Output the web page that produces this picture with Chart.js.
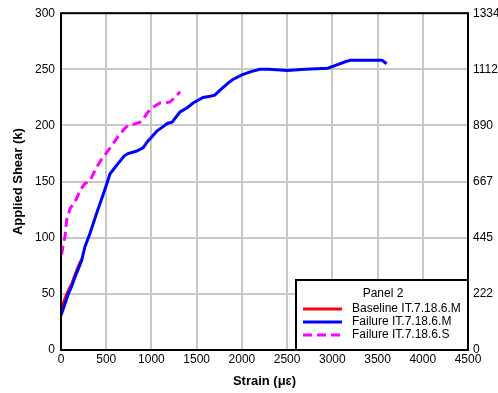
<!DOCTYPE html>
<html><head><meta charset="utf-8">
<script src="https://cdn.jsdelivr.net/npm/chart.js@4"></script>
<style>html,body{margin:0;padding:0;background:#fff}#wrap{width:498px;height:393px}</style>
</head><body><div id="wrap"><canvas id="c" width="498" height="393"></canvas></div>
<script>
const strainBaseM = [0, 40, 81, 120, 155, 190, 229];
const shearBaseM  = [36, 45, 53, 59, 67, 74, 81];
const strainFailM = [0, 40, 81, 120, 155, 190, 229, 265, 321, 395, 468, 510, 542, 630, 700, 741, 830, 907, 960, 1006, 1060, 1128, 1180, 1228, 1316, 1400, 1460, 1571, 1650, 1700, 1780, 1850, 1900, 2000, 2100, 2200, 2300, 2500, 2700, 2950, 3050, 3150, 3200, 3400, 3550, 3600];
const shearFailM  = [31, 40, 50, 57, 65, 72, 80, 92, 104, 122, 139, 149, 157, 166, 173, 175, 177, 180, 186, 190, 195, 199, 202, 203, 212, 216, 220, 225, 226, 227, 233, 238, 241, 245, 248, 250, 250, 249, 250, 251, 254, 257, 258, 258, 258, 255];
const strainFailS = [7, 25, 44, 63, 100, 155, 177, 210, 260, 321, 395, 450, 506, 570, 630, 700, 741, 800, 874, 920, 962, 1030, 1095, 1150, 1206, 1260, 1316];
const shearFailS  = [85, 94, 101, 116, 126, 132, 136, 142, 148, 151, 163, 170, 176, 183, 190, 197, 200, 201, 203, 207, 212, 217, 220, 220, 221, 225, 230];
const xTicks = [0, 500, 1000, 1500, 2000, 2500, 3000, 3500, 4000, 4500];
const yTicks = [0, 50, 100, 150, 200, 250, 300];
const kNTicks = [0, 222, 445, 667, 890, 1112, 1334];
const legendTitle = "Panel 2";
const seriesNames = ["Baseline IT.7.18.6.M", "Failure IT.7.18.6.M", "Failure IT.7.18.6.S"];

const pts = (xs, ys) => xs.map((x, i) => ({x: x, y: ys[i]}));
const FONT = "Arial, 'Liberation Sans', sans-serif";

const legendPlugin = {
  id: 'boxLegend',
  afterDraw(chart) {
    const ctx = chart.ctx, a = chart.chartArea;
    const w = 172, h = 70;
    const x0 = a.right - w, y0 = a.bottom - h;
    ctx.save();
    ctx.fillStyle = '#fff';
    ctx.fillRect(x0, y0, w, h);
    ctx.strokeStyle = '#000'; ctx.lineWidth = 2;
    ctx.strokeRect(x0, y0, w, h);
    ctx.fillStyle = '#000';
    ctx.font = '12px ' + FONT;
    ctx.textBaseline = 'middle';
    ctx.textAlign = 'center';
    ctx.fillText(legendTitle, x0 + 87, y0 + 14);
    ctx.textAlign = 'left';
    chart.data.datasets.forEach((ds, i) => {
      const yy = y0 + 29 + i * 13;
      ctx.strokeStyle = ds.borderColor; ctx.lineWidth = 3;
      ctx.setLineDash(ds.borderDash || []);
      ctx.beginPath(); ctx.moveTo(x0 + 7, yy); ctx.lineTo(x0 + 46, yy); ctx.stroke();
      ctx.setLineDash([]);
      ctx.fillText(seriesNames[i], x0 + 56, yy);
    });
    ctx.restore();
  }
};

const borderPlugin = {
  id: 'frame',
  afterDatasetsDraw(chart) {
    const ctx = chart.ctx, a = chart.chartArea;
    ctx.save(); ctx.strokeStyle = '#000'; ctx.lineWidth = 2;
    ctx.strokeRect(a.left, a.top, a.right - a.left, a.bottom - a.top);
    ctx.restore();
  }
};

new Chart(document.getElementById('c'), {
  type: 'line',
  data: { datasets: [
    { label: seriesNames[0], data: pts(strainBaseM, shearBaseM), borderColor: '#ff0000', borderWidth: 3, pointRadius: 0, order: 3, tension: 0 },
    { label: seriesNames[1], data: pts(strainFailM, shearFailM), borderColor: '#0000ff', borderWidth: 3, pointRadius: 0, order: 1, tension: 0 },
    { label: seriesNames[2], data: pts(strainFailS, shearFailS), borderColor: '#ff00ff', borderWidth: 3, borderDash: [9, 5], pointRadius: 0, order: 2, tension: 0 }
  ]},
  options: {
    responsive: false, animation: false,
    layout: { padding: { top: 13, left: 11, right: 0, bottom: 4 } },
    plugins: { legend: { display: false }, tooltip: { enabled: false } },
    scales: {
      x: {
        type: 'linear', min: 0, max: 4500,
        afterBuildTicks: s => { s.ticks = xTicks.map(v => ({value: v})); },
        ticks: { color: '#000', font: { size: 12, family: FONT }, padding: 2, maxRotation: 0, autoSkip: false,
                 callback: v => String(v) },
        grid: { color: '#c8c8c8', lineWidth: 2, drawTicks: false },
        border: { display: false },
        title: { display: true, text: 'Strain (\u03bc\u03b5)', color: '#000', font: { size: 13, weight: 'bold', family: FONT }, padding: { top: 1, bottom: 0 } },
        afterFit: s => { s.height = 39; }
      },
      y: {
        type: 'linear', min: 0, max: 300, position: 'left',
        afterBuildTicks: s => { s.ticks = yTicks.map(v => ({value: v})); },
        ticks: { color: '#000', font: { size: 12, family: FONT }, padding: 6, autoSkip: false },
        grid: { color: '#c8c8c8', lineWidth: 2, drawTicks: false },
        border: { display: false },
        title: { display: true, text: 'Applied Shear (k)', color: '#000', font: { size: 13, weight: 'bold', family: FONT }, padding: { top: 0, bottom: 2 } },
        afterFit: s => { s.width = 50; }
      },
      y2: {
        type: 'linear', min: 0, max: 1334.4, position: 'right',
        afterBuildTicks: s => { s.ticks = kNTicks.map(v => ({value: v * 1334.4 / 1334})); },
        ticks: { color: '#000', font: { size: 12, family: FONT }, padding: 5, autoSkip: false,
                 callback: v => Math.round(v).toString() },
        grid: { display: false, drawTicks: false },
        border: { display: false },
        afterFit: s => { s.width = 30; }
      }
    }
  },
  plugins: [legendPlugin, borderPlugin]
});
</script></body></html>
